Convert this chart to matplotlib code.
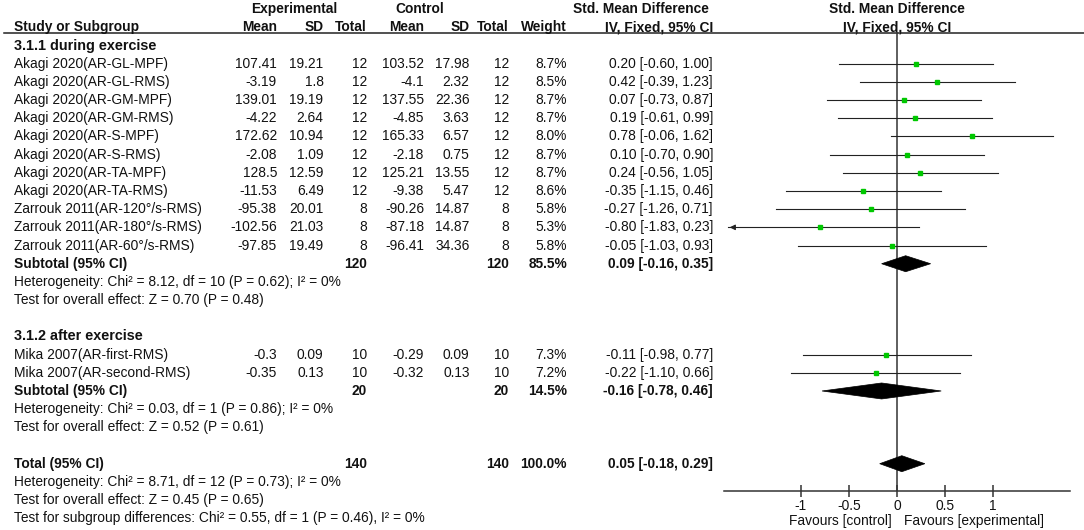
import matplotlib
matplotlib.use("Agg")
import matplotlib.pyplot as plt
from matplotlib.patches import Polygon

plt.rcParams['font.family'] = ['Liberation Sans', 'DejaVu Sans']

# ---------------- data ----------------
studies_g1 = ["Akagi 2020(AR-GL-MPF)", "Akagi 2020(AR-GL-RMS)", "Akagi 2020(AR-GM-MPF)",
              "Akagi 2020(AR-GM-RMS)", "Akagi 2020(AR-S-MPF)", "Akagi 2020(AR-S-RMS)",
              "Akagi 2020(AR-TA-MPF)", "Akagi 2020(AR-TA-RMS)", "Zarrouk 2011(AR-120°/s-RMS)",
              "Zarrouk 2011(AR-180°/s-RMS)", "Zarrouk 2011(AR-60°/s-RMS)"]
exp_mean_g1 = ["107.41", "-3.19", "139.01", "-4.22", "172.62", "-2.08", "128.5", "-11.53", "-95.38", "-102.56", "-97.85"]
exp_sd_g1 = ["19.21", "1.8", "19.19", "2.64", "10.94", "1.09", "12.59", "6.49", "20.01", "21.03", "19.49"]
exp_n_g1 = [12, 12, 12, 12, 12, 12, 12, 12, 8, 8, 8]
ctl_mean_g1 = ["103.52", "-4.1", "137.55", "-4.85", "165.33", "-2.18", "125.21", "-9.38", "-90.26", "-87.18", "-96.41"]
ctl_sd_g1 = ["17.98", "2.32", "22.36", "3.63", "6.57", "0.75", "13.55", "5.47", "14.87", "14.87", "34.36"]
ctl_n_g1 = [12, 12, 12, 12, 12, 12, 12, 12, 8, 8, 8]
weight_g1 = [8.7, 8.5, 8.7, 8.7, 8.0, 8.7, 8.7, 8.6, 5.8, 5.3, 5.8]
smd_g1 = [0.20, 0.42, 0.07, 0.19, 0.78, 0.10, 0.24, -0.35, -0.27, -0.80, -0.05]
lo_g1 = [-0.60, -0.39, -0.73, -0.61, -0.06, -0.70, -0.56, -1.15, -1.26, -1.83, -1.03]
hi_g1 = [1.00, 1.23, 0.87, 0.99, 1.62, 0.90, 1.05, 0.46, 0.71, 0.23, 0.93]

studies_g2 = ["Mika 2007(AR-first-RMS)", "Mika 2007(AR-second-RMS)"]
exp_mean_g2 = ["-0.3", "-0.35"]
exp_sd_g2 = ["0.09", "0.13"]
exp_n_g2 = [10, 10]
ctl_mean_g2 = ["-0.29", "-0.32"]
ctl_sd_g2 = ["0.09", "0.13"]
ctl_n_g2 = [10, 10]
weight_g2 = [7.3, 7.2]
smd_g2 = [-0.11, -0.22]
lo_g2 = [-0.98, -1.10]
hi_g2 = [0.77, 0.66]

# subtotal / total: (n_exp, n_ctl, weight, smd, lo, hi)
sub1 = (120, 120, 85.5, 0.09, -0.16, 0.35)
sub2 = (20, 20, 14.5, -0.16, -0.78, 0.46)
total = (140, 140, 100.0, 0.05, -0.18, 0.29)

het1 = "Heterogeneity: Chi² = 8.12, df = 10 (P = 0.62); I² = 0%"
eff1 = "Test for overall effect: Z = 0.70 (P = 0.48)"
het2 = "Heterogeneity: Chi² = 0.03, df = 1 (P = 0.86); I² = 0%"
eff2 = "Test for overall effect: Z = 0.52 (P = 0.61)"
het_t = "Heterogeneity: Chi² = 8.71, df = 12 (P = 0.73); I² = 0%"
eff_t = "Test for overall effect: Z = 0.45 (P = 0.65)"
sub_diff = "Test for subgroup differences: Chi² = 0.55, df = 1 (P = 0.46), I² = 0%"

xticks = [-1, -0.5, 0, 0.5, 1]
xticklabels = ["-1", "-0.5", "0", "0.5", "1"]

# ---------------- layout ----------------
W, H = 1084, 530
fig = plt.figure(figsize=(W / 100, H / 100), dpi=100)
fig.patch.set_facecolor("white")

ax_t = fig.add_axes([0, 0, 1, 1])
ax_t.set_xlim(0, W)
ax_t.set_ylim(H, 0)
ax_t.axis("off")

y0, dy = 9.2, 18.18
def ry(i):
    return y0 + dy * i

FS = 9.9
X_NAME, X_EM, X_ESD, X_EN, X_CM, X_CSD, X_CN, X_W, X_CI = 14, 277, 323.5, 367, 424, 469.5, 509, 567, 713
PLOT_L, PLOT_R, PLOT_T, PLOT_B = 724, 1070, 32, 491
X_ZERO = (PLOT_L + PLOT_R) / 2
TXT = "#111111"

def t(x, i, s, ha="right", bold=False, size=FS):
    ax_t.text(x, ry(i), s, ha=ha, va="center", fontsize=size,
              fontweight="bold" if bold else "normal", color=TXT)

# headers
t(294, 0, "Experimental", ha="center", bold=True)
t(420, 0, "Control", ha="center", bold=True)
t(641, 0, "Std. Mean Difference", ha="center", bold=True)
t(X_ZERO, 0, "Std. Mean Difference", ha="center", bold=True)
t(X_NAME, 1, "Study or Subgroup", ha="left", bold=True)
for x, s in [(X_EM, "Mean"), (X_ESD, "SD"), (X_EN, "Total"), (X_CM, "Mean"),
             (X_CSD, "SD"), (X_CN, "Total"), (X_W, "Weight"), (X_CI, "IV, Fixed, 95% CI")]:
    t(x, 1, s, bold=True)
t(X_ZERO, 1, "IV, Fixed, 95% CI", ha="center", bold=True)
ax_t.plot([4, W], [33, 33], color="#222222", lw=1.1)

def study_rows(start, names, em, esd, en, cm, csd, cn, w, smd, lo, hi):
    for k in range(len(names)):
        i = start + k
        t(X_NAME, i, names[k], ha="left")
        t(X_EM, i, em[k]); t(X_ESD, i, esd[k]); t(X_EN, i, str(en[k]))
        t(X_CM, i, cm[k]); t(X_CSD, i, csd[k]); t(X_CN, i, str(cn[k]))
        t(X_W, i, f"{w[k]:.1f}%")
        t(X_CI, i, f"{smd[k]:.2f} [{lo[k]:.2f}, {hi[k]:.2f}]")

def summary_row(i, label, s):
    t(X_NAME, i, label, ha="left", bold=True)
    t(X_EN, i, str(s[0]), bold=True)
    t(X_CN, i, str(s[1]), bold=True)
    t(X_W, i, f"{s[2]:.1f}%", bold=True)
    t(X_CI, i, f"{s[3]:.2f} [{s[4]:.2f}, {s[5]:.2f}]", bold=True)

t(X_NAME, 2, "3.1.1 during exercise", ha="left", bold=True, size=FS + 0.5)
study_rows(3, studies_g1, exp_mean_g1, exp_sd_g1, exp_n_g1, ctl_mean_g1, ctl_sd_g1, ctl_n_g1,
           weight_g1, smd_g1, lo_g1, hi_g1)
summary_row(14, "Subtotal (95% CI)", sub1)
t(X_NAME, 15, het1, ha="left")
t(X_NAME, 16, eff1, ha="left")
t(X_NAME, 18, "3.1.2 after exercise", ha="left", bold=True, size=FS + 0.5)
study_rows(19, studies_g2, exp_mean_g2, exp_sd_g2, exp_n_g2, ctl_mean_g2, ctl_sd_g2, ctl_n_g2,
           weight_g2, smd_g2, lo_g2, hi_g2)
summary_row(21, "Subtotal (95% CI)", sub2)
t(X_NAME, 22, het2, ha="left")
t(X_NAME, 23, eff2, ha="left")
summary_row(25, "Total (95% CI)", total)
t(X_NAME, 26, het_t, ha="left")
t(X_NAME, 27, eff_t, ha="left")
t(X_NAME, 28, sub_diff, ha="left")

# ---------------- forest plot ----------------
ax_f = fig.add_axes([PLOT_L / W, (H - PLOT_B) / H, (PLOT_R - PLOT_L) / W, (PLOT_B - PLOT_T) / H])
ax_f.set_xlim(-1.8, 1.8)
ax_f.set_ylim(PLOT_B, PLOT_T)
ax_f.patch.set_alpha(0)
for sp in ["top", "left", "right"]:
    ax_f.spines[sp].set_visible(False)
ax_f.spines["bottom"].set_color("#333333")
ax_f.spines["bottom"].set_linewidth(1.1)
ax_f.set_yticks([])
ax_f.set_xticks(xticks)
ax_f.set_xticklabels(xticklabels, fontsize=FS, color=TXT)
ax_f.tick_params(axis="x", direction="inout", length=9, width=1.1, color="#333333", pad=1)
ax_f.axvline(0, color="#333333", lw=1.1)

GREEN = "#00C800"
LINE = "#222222"
xmin = ax_f.get_xlim()[0]

def draw_studies(start, smd, lo, hi, w):
    for k in range(len(smd)):
        y = ry(start + k)
        if lo[k] < xmin:
            ax_f.plot([xmin + 0.04, hi[k]], [y, y], color=LINE, lw=0.8)
            ax_f.annotate("", xy=(xmin + 0.03, y), xytext=(xmin + 0.12, y),
                          arrowprops=dict(arrowstyle="-|>", color=LINE, lw=0.8, mutation_scale=8))
        else:
            ax_f.plot([lo[k], hi[k]], [y, y], color=LINE, lw=0.8)
        ax_f.plot(smd[k], y, marker="s", ms=2.0 + w[k] * 0.08, color=GREEN, mec=GREEN, zorder=3)

def diamond(i, s):
    y = ry(i)
    ax_f.add_patch(Polygon([(s[4], y), (s[3], y - 8), (s[5], y), (s[3], y + 8)],
                           closed=True, facecolor="black", edgecolor="black", lw=0.5, zorder=3))

draw_studies(3, smd_g1, lo_g1, hi_g1, weight_g1)
draw_studies(19, smd_g2, lo_g2, hi_g2, weight_g2)
diamond(14, sub1)
diamond(21, sub2)
diamond(25, total)

t(X_ZERO - 5, 28.15, "Favours [control]", ha="right")
t(X_ZERO + 7, 28.15, "Favours [experimental]", ha="left")

fig.savefig("out.png", dpi=100, facecolor="white")
